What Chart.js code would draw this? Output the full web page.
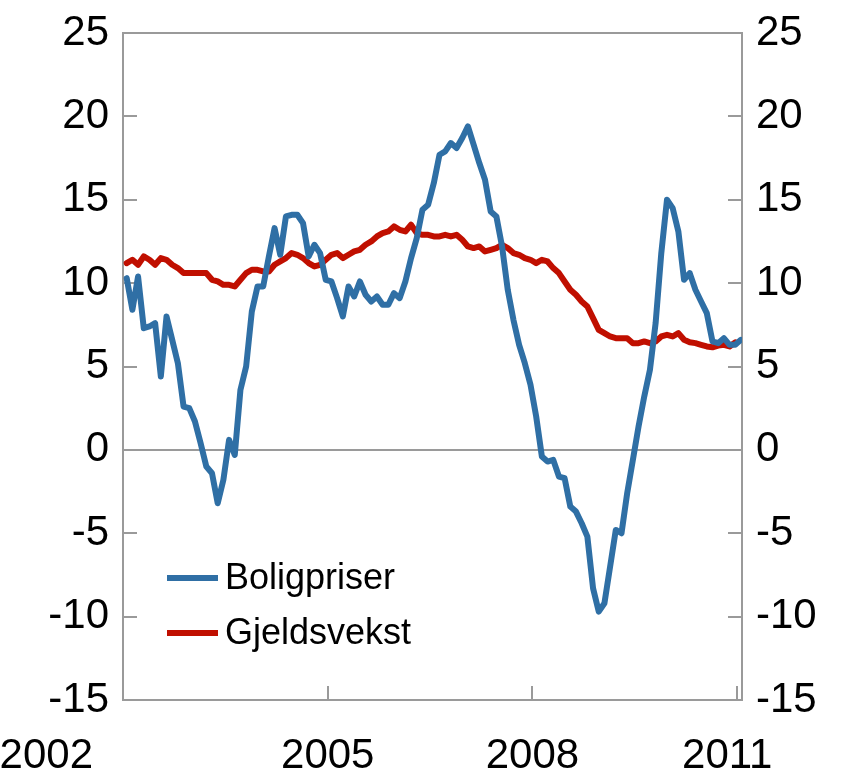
<!DOCTYPE html>
<html><head><meta charset="utf-8">
<script src="https://cdn.jsdelivr.net/npm/chart.js@4.4.1/dist/chart.umd.min.js"></script>
<style>html,body{margin:0;padding:0;background:#fff}#wrap{width:856px;height:778px}</style>
</head><body><div id="wrap"><canvas id="c" width="856" height="778"></canvas></div>
<script>
// Monthly series starting January 2002
const startYear = 2002;
const xTickYears = [2002, 2005, 2008, 2011];
const yTickValues = [-15, -10, -5, 0, 5, 10, 15, 20, 25];
const seriesNames = ['Boligpriser', 'Gjeldsvekst'];
const boligpriser = [
 10.3, 8.4, 10.4, 7.3, 7.4, 7.6, 4.4, 8.0, 6.6, 5.2,
 2.6, 2.5, 1.7, 0.4, -1.0, -1.4, -3.2, -1.8, 0.6, -0.3,
 3.6, 5.0, 8.3, 9.8, 9.8, 11.6, 13.3, 11.7, 14.0, 14.1,
 14.1, 13.6, 11.6, 12.3, 11.8, 10.2, 10.1, 9.1, 8.0, 9.8,
 9.2, 10.1, 9.3, 8.9, 9.2, 8.7, 8.7, 9.4, 9.1, 10.1,
 11.5, 12.7, 14.4, 14.7, 16.0, 17.7, 17.9, 18.4, 18.1, 18.7,
 19.4, 18.3, 17.2, 16.2, 14.3, 14.0, 12.2, 9.6, 7.8, 6.3,
 5.2, 3.9, 2.0, -0.4, -0.7, -0.6, -1.6, -1.7, -3.4, -3.7,
 -4.4, -5.2, -8.3, -9.7, -9.2, -7.0, -4.8, -5.0, -2.6, -0.6,
 1.4, 3.2, 4.8, 7.6, 11.8, 15.0, 14.5, 13.1, 10.2, 10.6,
 9.6, 8.9, 8.2, 6.5, 6.4, 6.7, 6.3, 6.3, 6.6
];
const gjeldsvekst = [
 11.2, 11.4, 11.1, 11.6, 11.4, 11.1, 11.5, 11.4, 11.1, 10.9,
 10.6, 10.6, 10.6, 10.6, 10.6, 10.2, 10.1, 9.9, 9.9, 9.8,
 10.2, 10.6, 10.8, 10.8, 10.7, 10.7, 11.1, 11.3, 11.5, 11.8,
 11.7, 11.5, 11.2, 11.0, 11.1, 11.4, 11.7, 11.8, 11.5, 11.7,
 11.9, 12.0, 12.3, 12.5, 12.8, 13.0, 13.1, 13.4, 13.2, 13.1,
 13.5, 13.0, 12.9, 12.9, 12.8, 12.8, 12.9, 12.8, 12.9, 12.6,
 12.2, 12.1, 12.2, 11.9, 12.0, 12.1, 12.3, 12.1, 11.8, 11.7,
 11.5, 11.4, 11.2, 11.4, 11.3, 10.9, 10.6, 10.1, 9.6, 9.3,
 8.9, 8.6, 7.9, 7.2, 7.0, 6.8, 6.7, 6.7, 6.7, 6.4,
 6.4, 6.5, 6.4, 6.5, 6.8, 6.9, 6.8, 7.0, 6.6, 6.45,
 6.4, 6.3, 6.2, 6.15, 6.25, 6.3, 6.2, 6.45
];

const BLUE = '#2f6fa5';
const RED = '#c00f00';
const AXIS = '#9a9a9a';
const FONT = "'Liberation Sans', Arial, sans-serif";

// point position inside each month
const toPoints = arr => arr.map((v, i) => ({ x: startYear + (i + 0.65) / 12, y: v }));

const frame = {
  id: 'frame',
  beforeDatasetsDraw(chart) {
    const { ctx, chartArea: a, scales } = chart;
    const y = scales.y, x = scales.x;
    ctx.save();
    ctx.strokeStyle = AXIS;
    ctx.lineWidth = 2;
    const y0 = y.getPixelForValue(0);
    ctx.beginPath(); ctx.moveTo(a.left, y0); ctx.lineTo(a.right, y0); ctx.stroke();
    ctx.beginPath();
    yTickValues.forEach(v => {
      const py = Math.round(y.getPixelForValue(v));
      ctx.moveTo(a.left, py); ctx.lineTo(a.left + 14, py);
      ctx.moveTo(a.right, py); ctx.lineTo(a.right - 14, py);
    });
    xTickYears.forEach(v => {
      const px = Math.round(x.getPixelForValue(v));
      ctx.moveTo(px, a.bottom); ctx.lineTo(px, a.bottom - 14);
    });
    ctx.stroke();
    ctx.strokeRect(a.left, a.top, a.right - a.left, a.bottom - a.top);
    ctx.restore();
  },
  afterDraw(chart) {
    const { ctx, chartArea: a, scales } = chart;
    ctx.save();
    // x-axis year labels
    ctx.font = '42px ' + FONT;
    ctx.fillStyle = '#000';
    ctx.textBaseline = 'alphabetic';
    const n = xTickYears.length;
    xTickYears.forEach((v, i) => {
      const px = scales.x.getPixelForValue(v);
      const yb = a.bottom + 68;
      if (i === 0) { ctx.textAlign = 'right'; ctx.fillText(String(v), a.left - 30, yb); }
      else if (i === n - 1) { ctx.textAlign = 'center'; ctx.fillText(String(v), px - 10, yb); }
      else { ctx.textAlign = 'center'; ctx.fillText(String(v), px, yb); }
    });
    // legend
    ctx.font = '36px ' + FONT;
    ctx.textBaseline = 'middle';
    ctx.textAlign = 'left';
    chart.data.datasets.forEach((ds, i) => {
      const ly = a.bottom - 122 + i * 55;
      const lx = a.left + 44;
      ctx.strokeStyle = ds.borderColor;
      ctx.lineWidth = 6;
      ctx.beginPath(); ctx.moveTo(lx, ly); ctx.lineTo(lx + 51, ly); ctx.stroke();
      ctx.fillStyle = '#000';
      ctx.fillText(ds.label, lx + 58, ly + 1);
    });
    ctx.restore();
  }
};

const tickFont = { family: FONT, size: 42 };
const yAxisBase = {
  type: 'linear', min: -15, max: 25,
  ticks: { stepSize: 5, color: '#000', font: tickFont, padding: 14 },
  grid: { display: false, drawTicks: false },
  border: { display: false }
};
const fitY = w => s => { s.width = w; s.paddingTop = 0; s.paddingBottom = 0; };

new Chart(document.getElementById('c'), {
  type: 'line',
  data: {
    datasets: [
      { label: seriesNames[0], data: toPoints(boligpriser), borderColor: BLUE, borderWidth: 6, pointRadius: 0, tension: 0, borderJoinStyle: 'round', borderCapStyle: 'round' },
      { label: seriesNames[1], data: toPoints(gjeldsvekst), borderColor: RED, borderWidth: 6, pointRadius: 0, tension: 0, borderJoinStyle: 'round', borderCapStyle: 'round' }
    ]
  },
  options: {
    responsive: false,
    animation: false,
    devicePixelRatio: 1,
    layout: { padding: { top: 33, left: 0, right: 0, bottom: 0 } },
    plugins: { legend: { display: false }, tooltip: { enabled: false } },
    scales: {
      x: {
        type: 'linear', min: 2002, max: 2011.07,
        afterBuildTicks: s => { s.ticks = xTickYears.map(v => ({ value: v })); },
        afterFit: s => { s.height = 78; s.paddingLeft = 0; s.paddingRight = 0; },
        ticks: { display: false },
        grid: { display: false, drawTicks: false },
        border: { display: false }
      },
      y: Object.assign({}, yAxisBase, { position: 'left', afterFit: fitY(123) }),
      y2: Object.assign({}, yAxisBase, { position: 'right', afterFit: fitY(114) })
    }
  },
  plugins: [frame]
});
</script>
</body></html>
